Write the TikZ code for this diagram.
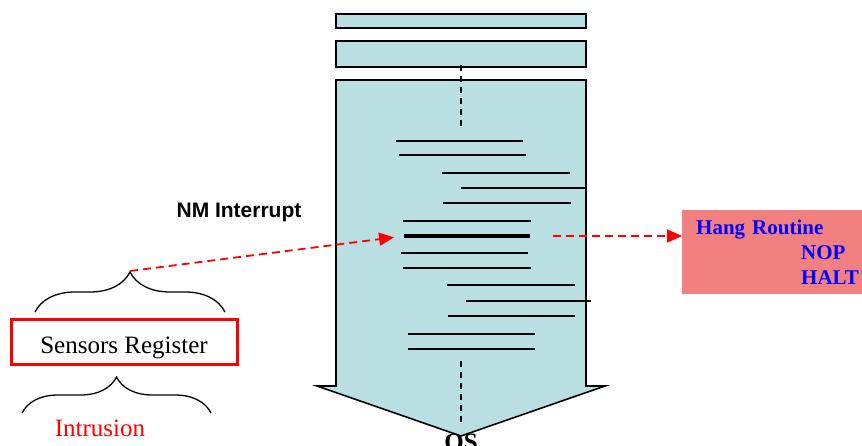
\documentclass[tikz,border=0pt]{standalone}
\usepackage{fontspec}
\setmainfont{Liberation Serif}
\setsansfont{Liberation Sans}
\usepackage{tikz}
\usetikzlibrary{arrows.meta, decorations.pathreplacing}
\definecolor{stackfill}{HTML}{BADFE2}
\definecolor{hangfill}{RGB}{242,128,128}
\definecolor{alarmred}{HTML}{FF0000}
\definecolor{routineblue}{HTML}{0000FF}

\begin{document}
\begin{tikzpicture}[x=1pt, y=-1pt,
    every node/.style={inner sep=0pt},
    stackpart/.style={
        draw=black, line width=1.6pt, fill=stackfill,
    },
    codeline/.style={
        draw=black, line width=1.3pt,
    },
    flowtrace/.style={
        draw=black, line width=1.6pt, dash pattern=on 6pt off 5pt,
    },
    jumplink/.style={
        draw=alarmred, line width=1.8pt, dash pattern=on 8pt off 5pt,
        -{Triangle[length=15pt, width=13pt]},
    },
    bitbrace/.style={
        draw=black, line width=1.3pt,
        decorate, decoration={brace, amplitude=#1},
    },
    regbox/.style={
        draw=alarmred, line width=3pt,
        minimum width=226pt, minimum height=44pt,
        text height=22pt, text depth=0pt,
        font=\fontsize{25}{30}\selectfont,
    },
    hangbox/.style={
        fill=hangfill, anchor=north west,
        minimum width=180pt, minimum height=84pt,
        text width=166pt, inner xsep=14pt, align=left,
        text=routineblue, font=\fontsize{21}{25}\selectfont\bfseries,
    },
]
\useasboundingbox (0,0) rectangle (862,446);

% ── Program stack: two header blocks and the big downward arrow ───────
\draw[stackpart] (336,14) rectangle (586,28);
\draw[stackpart] (336,41) rectangle (586,67);
\draw[stackpart] (336,80) -- (586,80) -- (586,386) -- (605,386)
    -- (461,436) -- (317,386) -- (336,386) -- cycle;

% program flow continues through the stack
\draw[flowtrace] (461,65) -- (461,128);
\draw[flowtrace] (461,361) -- (461,425);

% ── Instructions ──────────────────────────────────────────────────────
\foreach \xa/\xb/\yy in {396/523/141, 399/526/155, 442/570/173, 461/587/188,
                         443/571/203, 403/531/221, 401/528/253, 403/531/268,
                         447/575/285, 466/591/301, 448/575/316, 408/535/334,
                         408/535/349}
    \draw[codeline] (\xa,\yy) -- (\xb,\yy);

% instruction hit by the interrupt
\coordinate (trap) at (404,236);
\coordinate (trapend) at (530,236);
\draw[codeline, line width=3.6pt] (trap) -- (trapend);

\node[font=\fontsize{25}{30}\selectfont\bfseries, anchor=base] (os) at (461,450) {OS};

% ── Sensors register and its braces ───────────────────────────────────
\node[regbox] (reg) at (124,342) {Sensors Register};
\draw[bitbrace=40] (35,312) -- (225,312);
\coordinate (regtip) at (130,271);
\draw[bitbrace=36] (22,413) -- (211,413);
\node[font=\fontsize{25}{30}\selectfont, text=alarmred, anchor=base] (intr) at (100,436) {Intrusion};

% ── Interrupt path ────────────────────────────────────────────────────
\node[font=\fontsize{21}{25}\selectfont\sffamily\bfseries, anchor=base] (nmi) at (239,218) {NM Interrupt};
\draw[jumplink, shorten >=10pt] (regtip) -- (trap);

% ── Hang routine ──────────────────────────────────────────────────────
\node[hangbox] (hang) at (682,210) {Hang Routine\\
    \hspace*{105pt}NOP\\
    \hspace*{105pt}HALT};
\draw[jumplink, shorten <=23pt] (trapend) -- (trapend -| hang.west);

\end{tikzpicture}
\end{document}
